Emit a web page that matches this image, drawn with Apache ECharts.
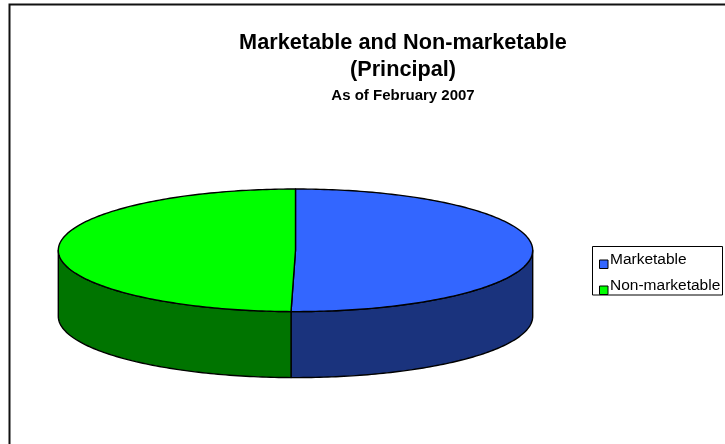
<!DOCTYPE html>
<html>
<head>
<meta charset="utf-8">
<script src="https://cdn.jsdelivr.net/npm/echarts@6/dist/echarts.min.js"></script>
<style>html,body{margin:0;padding:0;background:#fff}#c{width:725px;height:444px}</style>
</head>
<body>
<div id="c"></div>
<script>
// ---- data ----
const categories = ['Marketable', 'Non-marketable'];
const values = [50.3, 49.7];
const topColors = ['#3366FF', '#00FF00'];
const sideColors = ['#1A337D', '#007400'];

// ---- geometry of the 3D pie ----
const CX = 295.5, CY = 250.3, RX = 237.2, RY = 61.3, DEPTH = 66;
const total = values.reduce((a, b) => a + b, 0);
const starts = [];
{ let acc = 0; for (const v of values) { starts.push(acc); acc += v; } }

function pt(theta, dy) {
  return [CX + RX * Math.sin(theta), CY - RY * Math.cos(theta) + (dy || 0)];
}
function arc(a1, a2, dy) {
  const pts = [];
  const n = Math.max(2, Math.ceil(Math.abs(a2 - a1) / (Math.PI / 180)));
  for (let i = 0; i <= n; i++) pts.push(pt(a1 + (a2 - a1) * i / n, dy));
  return pts;
}

function makeRender(idx) {
  return function (params, api) {
    const v = api.value(0);
    const a1 = starts[idx] / total * 2 * Math.PI;
    const a2 = a1 + v / total * 2 * Math.PI;
    const children = [];
    const s1 = Math.max(a1, Math.PI / 2), s2 = Math.min(a2, 3 * Math.PI / 2);
    if (s2 > s1) {
      const top = arc(s1, s2, 0);
      const bot = arc(s2, s1, DEPTH);
      children.push({
        type: 'polygon', z2: 1,
        shape: { points: top.concat(bot) },
        style: { fill: sideColors[idx], stroke: '#000', lineWidth: 1.4, lineJoin: 'round' }
      });
    }
    children.push({
      type: 'polygon', z2: 10,
      shape: { points: [[CX, CY]].concat(arc(a1, a2, 0)) },
      style: { fill: topColors[idx], stroke: '#000', lineWidth: 1.4, lineJoin: 'round' }
    });
    return { type: 'group', children: children };
  };
}

const chart = echarts.init(document.getElementById('c'), null, { renderer: 'canvas' });
const FONT = 'Arial, "Liberation Sans", sans-serif';
chart.setOption({
  animation: false,
  backgroundColor: '#fff',
  title: {
    text: 'Marketable and Non-marketable\n(Principal)',
    subtext: 'As of February 2007',
    left: 403,
    textAlign: 'center',
    top: 30,
    padding: 0,
    itemGap: 3,
    textStyle: { fontFamily: FONT, fontSize: 21.7, fontWeight: 'bold', color: '#000', lineHeight: 27 },
    subtextStyle: { fontFamily: FONT, fontSize: 15, fontWeight: 'bold', color: '#000', lineHeight: 17 }
  },
  legend: {
    orient: 'vertical',
    left: 592,
    top: 251,
    padding: [0, 0, 0, 7],
    itemGap: 8,
    itemWidth: 8.5,
    itemHeight: 17,
    icon: 'path://M0,0 M0,8.5 L8.5,8.5 L8.5,17 L0,17 Z',
    itemStyle: { borderColor: '#000', borderWidth: 1 },
    textStyle: { fontFamily: FONT, fontSize: 15.5, color: '#000', lineHeight: 17, padding: [0, 0, 0, -3] },
    data: categories
  },
  graphic: [{
    type: 'rect', silent: true, z: -1,
    shape: { x: 9.5, y: 4.5, width: 800, height: 500 },
    style: { fill: 'none', stroke: '#111', lineWidth: 2 }
  }, {
    type: 'rect', silent: true, z: -1,
    shape: { x: 592.5, y: 246.5, width: 130, height: 48.5 },
    style: { fill: '#fff', stroke: '#000', lineWidth: 1 }
  }],
  series: categories.map((name, i) => ({
    type: 'custom',
    name: name,
    coordinateSystem: 'none',
    itemStyle: { color: topColors[i] },
    renderItem: makeRender(i),
    data: [[values[i]]]
  }))
});
</script>
</body>
</html>
